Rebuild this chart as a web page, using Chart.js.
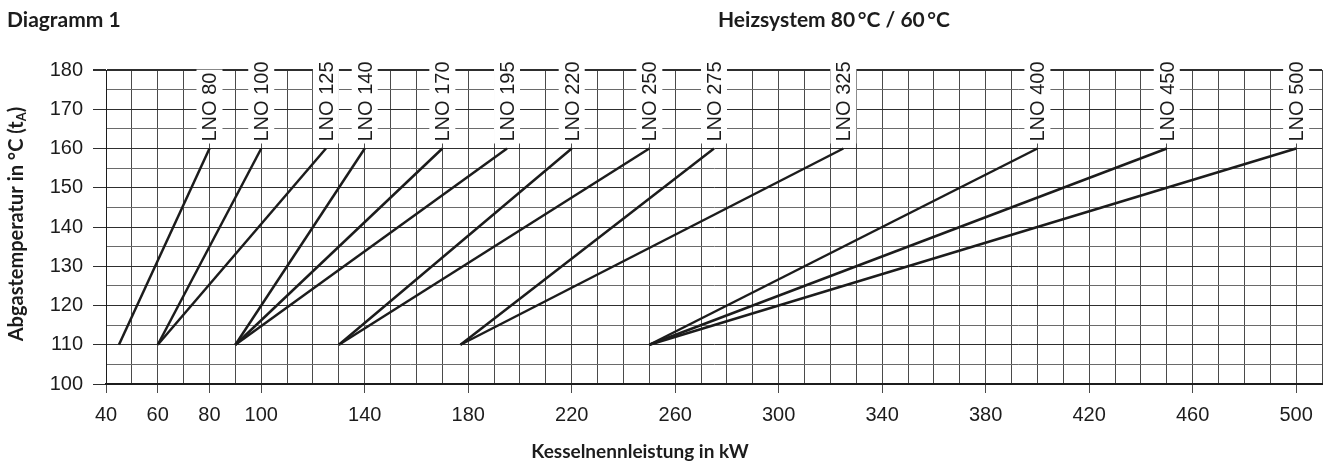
<!DOCTYPE html>
<html>
<head>
<meta charset="utf-8">
<title>Diagramm 1</title>
<script src="https://cdn.jsdelivr.net/npm/chart.js@4"></script>
<style>
  html, body { margin: 0; padding: 0; background: #fff; }
  #wrap { width: 1333px; height: 466px; position: relative; }
</style>
</head>
<body>
<div id="wrap"><canvas id="myChart"></canvas></div>
<script>
// boiler types and their power range (kW) at 110 / 160 °C flue gas temperature
const models = ['LNO 80', 'LNO 100', 'LNO 125', 'LNO 140', 'LNO 170', 'LNO 195', 'LNO 220',
  'LNO 250', 'LNO 275', 'LNO 325', 'LNO 400', 'LNO 450', 'LNO 500'];
const powerLow = [45, 60, 60, 90, 90, 90, 130, 130, 177, 177, 250, 250, 250];
const powerHigh = [80, 100, 125, 140, 170, 195, 220, 250, 275, 325, 400, 450, 500];
const tempLow = [110, 110, 110, 110, 110, 110, 110, 110, 110, 110, 110, 110, 110];
const tempHigh = [160, 160, 160, 160, 160, 160, 160, 160, 160, 160, 160, 160, 160];

const xTickLabels = [40, 60, 80, 100, 140, 180, 220, 260, 300, 340, 380, 420, 460, 500];
const yTickLabels = [100, 110, 120, 130, 140, 150, 160, 170, 180];

const GRID = '#4a4a4a';
const INK = '#1c1c1c';
const tickFont = { family: 'Arial, "Liberation Sans", sans-serif', size: 20 };

const datasets = models.map((name, i) => ({
  label: name,
  data: [{ x: powerLow[i], y: tempLow[i] }, { x: powerHigh[i], y: tempHigh[i] }],
  showLine: true,
  borderColor: INK,
  borderWidth: 2.5,
  pointRadius: 0,
  fill: false
}));

// rotated "LNO xx" labels above the line ends
const lineLabels = {
  id: 'lineLabels',
  afterDatasetsDraw(chart) {
    const ctx = chart.ctx;
    chart.data.datasets.forEach((ds, i) => {
      const meta = chart.getDatasetMeta(i);
      const pt = meta.data[meta.data.length - 1];
      const x = pt.x;
      const yBottom = pt.y - 7;
      ctx.save();
      ctx.font = '20px Arial, "Liberation Sans", sans-serif';
      const w = ctx.measureText(ds.label).width;
      ctx.fillStyle = '#fff';
      ctx.fillRect(x - 13, yBottom - w - 3, 26, w + 5);
      ctx.translate(x, yBottom);
      ctx.rotate(-Math.PI / 2);
      ctx.fillStyle = INK;
      ctx.textAlign = 'left';
      ctx.textBaseline = 'alphabetic';
      ctx.fillText(ds.label, 0, 7);
      ctx.restore();
    });
  }
};

// headings and axis titles
const headings = {
  id: 'headings',
  afterDraw(chart) {
    const ctx = chart.ctx;
    const area = chart.chartArea;
    ctx.save();
    ctx.fillStyle = INK;
    ctx.font = 'bold 21px Lato, sans-serif';
    ctx.textBaseline = 'alphabetic';
    ctx.textAlign = 'left';
    ctx.fillText('Diagramm 1', 7, 27);
    ctx.fillText('Heizsystem 80\u2009°C / 60\u2009°C', 718, 27);

    ctx.font = 'bold 19px Lato, sans-serif';
    ctx.textAlign = 'center';
    ctx.fillText('Kesselnennleistung in kW', 640, 458);

    // y title with subscript A
    const main = 'Abgastemperatur in °C (t';
    ctx.font = 'bold 20px Lato, sans-serif';
    const w1 = ctx.measureText(main).width;
    ctx.font = 'bold 13px Lato, sans-serif';
    const w2 = ctx.measureText('A').width;
    ctx.font = 'bold 20px Lato, sans-serif';
    const w3 = ctx.measureText(')').width;
    const total = w1 + w2 + w3;
    const cy = (area.top + area.bottom) / 2 - 3;
    ctx.translate(23, cy);
    ctx.rotate(-Math.PI / 2);
    ctx.textAlign = 'left';
    const x0 = -total / 2;
    ctx.fillText(main, x0, 0);
    ctx.font = 'bold 13px Lato, sans-serif';
    ctx.fillText('A', x0 + w1, 3);
    ctx.font = 'bold 20px Lato, sans-serif';
    ctx.fillText(')', x0 + w1 + w2, 0);
    ctx.restore();
  }
};

const ctx = document.getElementById('myChart').getContext('2d');
const chart = new Chart(ctx, {
  type: 'scatter',
  data: { datasets: datasets },
  options: {
    responsive: true,
    maintainAspectRatio: false,
    animation: false,
    layout: { padding: { top: 70, right: 11, left: 0, bottom: 0 } },
    plugins: {
      legend: { display: false },
      tooltip: { enabled: false }
    },
    scales: {
      x: {
        type: 'linear',
        min: 40,
        max: 510,
        afterFit: scale => { scale.height = 82; },
        ticks: {
          stepSize: 10,
          autoSkip: false,
          maxRotation: 0,
          padding: 10,
          color: INK,
          font: tickFont,
          callback: v => (xTickLabels.includes(v) ? String(v) : '')
        },
        grid: {
          color: GRID,
          lineWidth: 1,
          tickLength: 9,
          tickColor: c => (xTickLabels.includes(c.tick.value) ? GRID : 'rgba(0,0,0,0)')
        },
        border: { color: INK, width: 2 }
      },
      y: {
        min: 100,
        max: 180,
        afterFit: scale => { scale.width = 106; },
        ticks: {
          stepSize: 5,
          autoSkip: false,
          padding: 10,
          color: INK,
          font: tickFont,
          callback: v => (yTickLabels.includes(v) ? String(v) : '')
        },
        grid: {
          color: c => (c.tick && c.tick.value % 10 === 0 ? '#2e2e2e' : '#6a6a6a'),
          lineWidth: c => (c.tick && (c.tick.value === 180) ? 2 : 1),
          tickLength: 13,
          tickColor: c => (yTickLabels.includes(c.tick.value) ? '#2e2e2e' : 'rgba(0,0,0,0)')
        },
        border: { color: INK, width: 1 }
      }
    }
  },
  plugins: [lineLabels, headings]
});
</script>
</body>
</html>
